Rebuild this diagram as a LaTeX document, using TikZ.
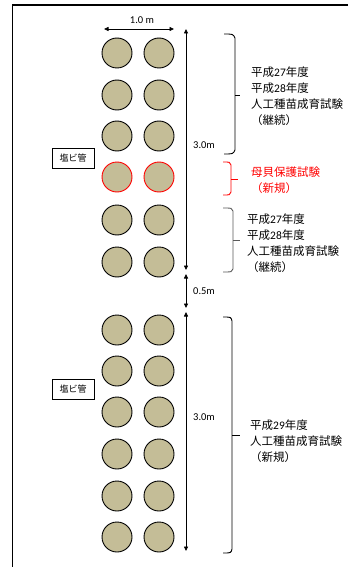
\documentclass[tikz,border=0pt]{standalone}
\usepackage{fontspec}
\setmainfont{Carlito}
\newfontfamily\cjk{Noto Sans CJK JP}
\usetikzlibrary{arrows.meta}
\definecolor{pipetan}{HTML}{C4BD97}
\definecolor{bracegray}{HTML}{595959}
\begin{document}
\begin{tikzpicture}[x=1pt,y=-1pt,
 pipe/.style={circle,draw=black,line width=0.9pt,fill=pipetan,minimum size=30pt,inner sep=0pt},
 pipered/.style={pipe,draw=red},
 dimline/.style={line width=0.8pt,{Triangle[length=4.5pt,width=4pt]}-{Triangle[length=4.5pt,width=4pt]}},
 bracel/.style={line width=0.9pt},
 lbl/.style={font=\fontsize{11.5}{16}\selectfont, align=left, anchor=west, inner sep=0pt},
 dimlbl/.style={font=\fontsize{10.5}{12}\selectfont, anchor=west, inner sep=0pt},
 tag/.style={draw, line width=0.8pt, minimum width=42pt, minimum height=20pt, inner sep=0pt, font=\cjk\fontsize{9}{10}\selectfont}
]
\useasboundingbox (0,0) rectangle (348,567);
% frame
\draw[line width=1.3pt] (348,5) -- (12.5,5) -- (12.5,567);
% pipes, upper block
\foreach \y [count=\i] in {53,95,136,220,262}{
  \node[pipe] (ua\i) at (117,\y) {};
  \node[pipe] (ub\i) at (159,\y) {};
}
\node[pipered] (ra) at (117,177) {};
\node[pipered] (rb) at (159,177) {};
% pipes, lower block
\foreach \y [count=\i] in {330,371,412,454,496,537}{
  \node[pipe] (la\i) at (117,\y) {};
  \node[pipe] (lb\i) at (159,\y) {};
}
% tags
\node[tag] (tag1) at (73,158) {塩ビ管};
\node[tag] (tag2) at (73,389) {塩ビ管};
% width dimension
\coordinate (w1) at (104,29);
\coordinate (w2) at (174,29);
\draw[dimline] (w1) -- (w2);
\node[dimlbl,anchor=center] (wl) at (142,20) {1.0 m};
% vertical dimensions
\coordinate (v1) at (186,29);
\coordinate (v2) at (186,270);
\coordinate (v3) at (186,274);
\coordinate (v4) at (186,308);
\coordinate (v5) at (186,312);
\coordinate (v6) at (186,551);
\draw[dimline] (v1) -- (v2);
\draw[dimline] (v3) -- (v4);
\draw[dimline] (v5) -- (v6);
\node[dimlbl] (d1) at (193,145) {3.0m};
\node[dimlbl] (d2) at (193,291) {0.5m};
\node[dimlbl] (d3) at (193,417) {3.0m};
% braces
\draw[bracel] (224,34) .. controls (233,34) .. (235,38) -- (235,150) .. controls (233,154) .. (224,154);
\draw[bracel] (235,95) -- (240,95);
\draw[bracel,red] (223,162) .. controls (230,162) .. (231,165) -- (231,192) .. controls (230,195) .. (223,195);
\draw[bracel,red] (231,179) -- (238,179);
\draw[bracel,bracegray] (223,208) .. controls (232,208) .. (233,211) -- (233,269) .. controls (232,272) .. (223,272);
\draw[bracel,bracegray] (233,240) -- (240,240);
\draw[bracel] (223,317) .. controls (231,317) .. (232,321) -- (232,549) .. controls (231,553) .. (223,553);
\draw[bracel] (232,435) -- (240,435);
% texts
\node[lbl] (t1) at (251,96) {{\cjk 平成}27{\cjk 年度}\\{\cjk 平成}28{\cjk 年度}\\{\cjk 人工種苗成育試験}\\{\cjk （継続）}};
\node[lbl,text=red] (t2) at (251,180) {{\cjk 母貝保護試験}\\{\cjk （新規）}};
\node[lbl] (t3) at (247,243) {{\cjk 平成}27{\cjk 年度}\\{\cjk 平成}28{\cjk 年度}\\{\cjk 人工種苗成育試験}\\{\cjk （継続）}};
\node[lbl] (t4) at (250,441) {{\cjk 平成}29{\cjk 年度}\\{\cjk 人工種苗成育試験}\\{\cjk （新規）}};
\end{tikzpicture}
\end{document}
